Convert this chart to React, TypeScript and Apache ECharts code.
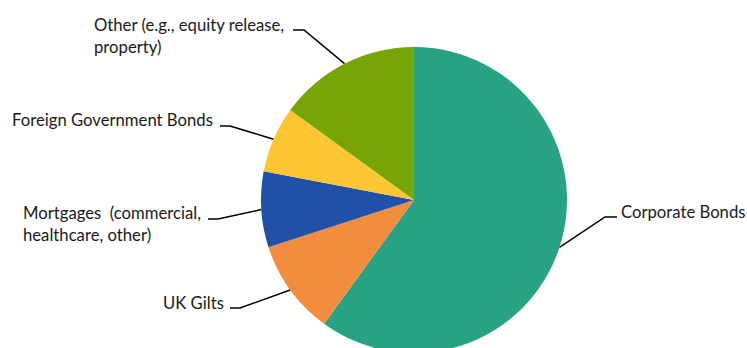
import React, { useEffect, useRef } from "react";
import * as echarts from "echarts";

const categories = [
  "Corporate Bonds",
  "UK Gilts",
  "Mortgages  (commercial,\nhealthcare, other)",
  "Foreign Government Bonds",
  "Other (e.g., equity release,\nproperty)",
];
const values = [60, 10, 8, 7, 15];
const colors = ["#27a383", "#f38d3e", "#2150a8", "#ffc633", "#77a506"];

// label text left edge / vertical centre, elbow point, horizontal end point
const labelAnchors = [
  { x: 621, y: 212, elbow: [605, 217], end: [617, 217] },
  { x: 163, y: 303, elbow: [240, 308], end: [230, 308] },
  { x: 23, y: 224, elbow: [218, 219], end: [208, 219] },
  { x: 12, y: 120, elbow: [230, 126], end: [220, 126] },
  { x: 94, y: 36, elbow: [304, 30], end: [293, 30] },
];

export default function App() {
  const ref = useRef<HTMLDivElement>(null);
  useEffect(() => {
    if (!ref.current) return;
    const chart = echarts.init(ref.current, null, { renderer: "svg" });
    chart.setOption({
      animation: false,
      backgroundColor: "#ffffff",
      series: [
        {
          type: "pie",
          center: [414, 200],
          radius: 153,
          startAngle: 90,
          clockwise: true,
          avoidLabelOverlap: false,
          data: categories.map((name, i) => ({
            name,
            value: values[i],
            itemStyle: { color: colors[i] },
          })),
          label: {
            show: true,
            formatter: "{b}",
            color: "#1a1a1a",
            fontFamily: "Lato",
            fontSize: 16.7,
            lineHeight: 21.5,
            align: "left",
          },
          labelLine: {
            show: true,
            length: 20,
            length2: 10,
            lineStyle: { color: "#000000", width: 1.5 },
          },
          labelLayout: (params: any) => {
            const a = labelAnchors[params.dataIndex];
            const start = params.labelLinePoints
              ? params.labelLinePoints[0]
              : a.elbow;
            return {
              x: a.x,
              y: a.y,
              align: "left",
              verticalAlign: "middle",
              labelLinePoints: [start, a.elbow, a.end],
            };
          },
        },
      ],
    });
    return () => chart.dispose();
  }, []);
  return (
    <div
      ref={ref}
      style={{ position: "fixed", left: 0, top: 0, width: 747, height: 348 }}
    />
  );
}
